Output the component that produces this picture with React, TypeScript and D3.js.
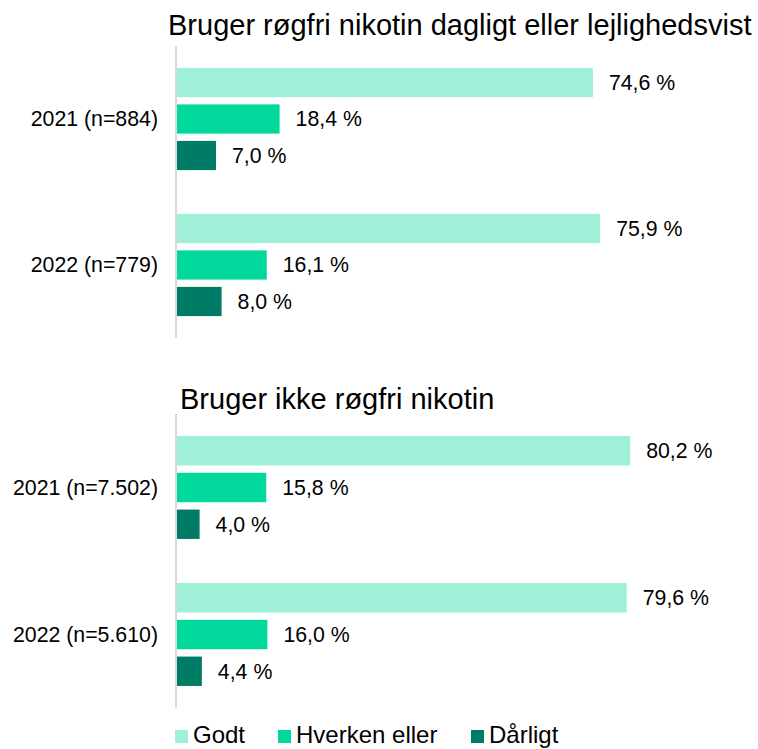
import React from 'react';
import * as d3 from 'd3';

const series = ['Godt', 'Hverken eller', 'Dårligt'];
const colors = ['#9ef0d9', '#00d99b', '#007b66'];

const panel1Title = 'Bruger røgfri nikotin dagligt eller lejlighedsvist';
const panel1Cats = ['2021 (n=884)', '2022 (n=779)'];
const panel1Godt = [74.6, 75.9];
const panel1Hverken = [18.4, 16.1];
const panel1Daarligt = [7.0, 8.0];

const panel2Title = 'Bruger ikke røgfri nikotin';
const panel2Cats = ['2021 (n=7.502)', '2022 (n=5.610)'];
const panel2Godt = [80.2, 79.6];
const panel2Hverken = [15.8, 16.0];
const panel2Daarligt = [4.0, 4.4];

const FONT = '"Liberation Sans", Arial, sans-serif';
const fmt = (v: number) => v.toFixed(1).replace('.', ',') + ' %';

function Panel(props: any) {
  const { title, titleX, titleY, cats, values, y0, y1, xPerPct } = props;
  const x0 = 177;
  const xScale = d3.scaleLinear().domain([0, 100]).range([x0, x0 + 100 * xPerPct]);
  const yScale = d3.scaleBand().domain(cats).range([y0, y1]);
  const inner = d3.scaleBand()
    .domain(series)
    .range([0, yScale.bandwidth()])
    .paddingInner(0.2)
    .paddingOuter(0.6);

  return (
    <g>
      <text x={titleX} y={titleY} fontSize={29} fontFamily={FONT} fill="#000">{title}</text>
      {cats.map((c: string, ci: number) => (
        <g key={c}>
          <text
            x={158}
            y={(yScale(c) as number) + yScale.bandwidth() / 2}
            dy="0.35em"
            textAnchor="end"
            fontSize={21.3}
            fontFamily={FONT}
            fill="#000"
          >{c}</text>
          {series.map((s, si) => {
            const v = values[si][ci];
            const y = (yScale(c) as number) + (inner(s) as number);
            return (
              <g key={s}>
                <rect x={x0} y={y} width={xScale(v) - x0} height={inner.bandwidth()} fill={colors[si]} />
                <text
                  x={xScale(v) + 16}
                  y={y + inner.bandwidth() / 2}
                  dy="0.35em"
                  fontSize={21.3}
                  fontFamily={FONT}
                  fill="#000"
                >{fmt(v)}</text>
              </g>
            );
          })}
        </g>
      ))}
      <line x1={176} x2={176} y1={y0} y2={y1} stroke="#d9d9d9" strokeWidth={2} />
    </g>
  );
}

const legendX = [175, 278, 471];

export default function App() {
  return (
    <svg width={758} height={749} style={{ position: 'absolute', left: 0, top: 0 }}>
      <rect width={758} height={749} fill="#fff" />
      <Panel
        title={panel1Title}
        titleX={168}
        titleY={35}
        cats={panel1Cats}
        values={[panel1Godt, panel1Hverken, panel1Daarligt]}
        y0={46}
        y1={338}
        xPerPct={5.575}
      />
      <Panel
        title={panel2Title}
        titleX={180}
        titleY={409}
        cats={panel2Cats}
        values={[panel2Godt, panel2Hverken, panel2Daarligt]}
        y0={414}
        y1={708}
        xPerPct={5.65}
      />
      {series.map((s, i) => (
        <g key={s}>
          <rect x={legendX[i]} y={730} width={13} height={13} fill={colors[i]} />
          <text x={legendX[i] + 18} y={743} fontSize={24} fontFamily={FONT} fill="#000">{s}</text>
        </g>
      ))}
    </svg>
  );
}
